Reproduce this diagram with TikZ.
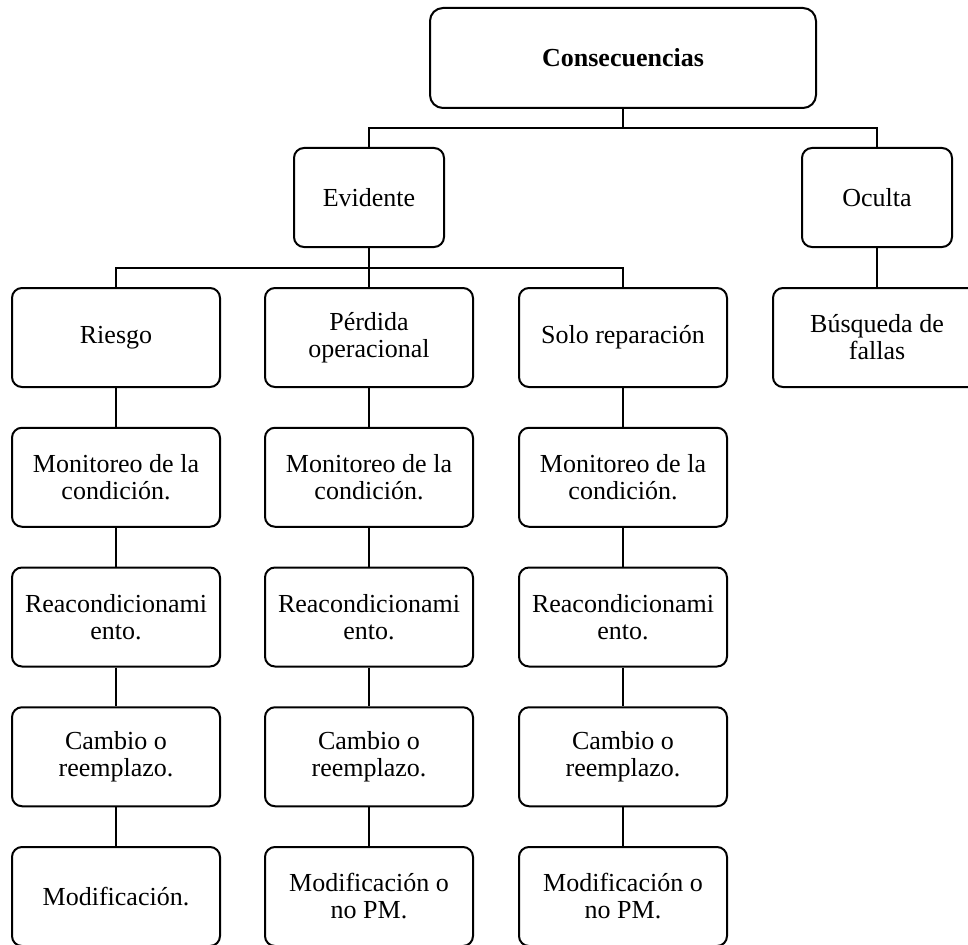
\documentclass[tikz,border=0pt]{standalone}
\usepackage{fontspec}
\setmainfont{Liberation Serif}
\begin{document}
\begin{tikzpicture}[x=1pt,y=-1pt,
  box/.style={draw, line width=2pt, rounded corners=10pt, inner sep=0pt,
    align=center, minimum width=208pt, minimum height=99pt,
    font=\fontsize{26}{27}\selectfont},
  midbox/.style={box, minimum width=150pt},
  topbox/.style={box, minimum width=386pt, minimum height=100pt, rounded corners=13pt},
  link/.style={line width=2pt}]
\clip (0,0) rectangle (968,944);
\fill[white] (0,0) rectangle (968,944);

% root and first level
\node[topbox] (cons) at (623,58) {\textbf{Consecuencias}};
\node[midbox] (evid) at (369,197.5) {Evidente};
\node[midbox] (ocul) at (877,197.5) {Oculta};

% second level
\node[box] (ries) at (116,337.5) {Riesgo};
\node[box] (perd) at (369,337.5) {Pérdida\\operacional};
\node[box] (solo) at (623,337.5) {Solo reparación};
\node[box] (busq) at (877,337.5) {Búsqueda de\\fallas};

% task chains
\node[box] (r1) at (116,477.25) {Monitoreo de la\\condición.};
\node[box] (r2) at (116,617) {Reacondicionami\\ento.};
\node[box] (r3) at (116,756.75) {Cambio o\\reemplazo.};
\node[box] (r4) at (116,896.5) {Modificación.};

\node[box] (p1) at (369,477.25) {Monitoreo de la\\condición.};
\node[box] (p2) at (369,617) {Reacondicionami\\ento.};
\node[box] (p3) at (369,756.75) {Cambio o\\reemplazo.};
\node[box] (p4) at (369,896.5) {Modificación o\\no PM.};

\node[box] (s1) at (623,477.25) {Monitoreo de la\\condición.};
\node[box] (s2) at (623,617) {Reacondicionami\\ento.};
\node[box] (s3) at (623,756.75) {Cambio o\\reemplazo.};
\node[box] (s4) at (623,896.5) {Modificación o\\no PM.};

% junctions
\coordinate (j1) at (623,128);
\coordinate (j2) at (369,268);

\draw[link] (cons.south) -- (j1);
\draw[link] (evid.north) |- (j1) -| (ocul.north);
\draw[link] (evid.south) -- (j2);
\draw[link] (ries.north) |- (j2) -| (solo.north);
\draw[link] (perd.north) -- (j2);
\draw[link] (ocul.south) -- (busq.north);

\draw[link] (ries.south) -- (r1.north);
\draw[link] (r1.south) -- (r2.north);
\draw[link] (r2.south) -- (r3.north);
\draw[link] (r3.south) -- (r4.north);

\draw[link] (perd.south) -- (p1.north);
\draw[link] (p1.south) -- (p2.north);
\draw[link] (p2.south) -- (p3.north);
\draw[link] (p3.south) -- (p4.north);

\draw[link] (solo.south) -- (s1.north);
\draw[link] (s1.south) -- (s2.north);
\draw[link] (s2.south) -- (s3.north);
\draw[link] (s3.south) -- (s4.north);
\end{tikzpicture}
\end{document}
